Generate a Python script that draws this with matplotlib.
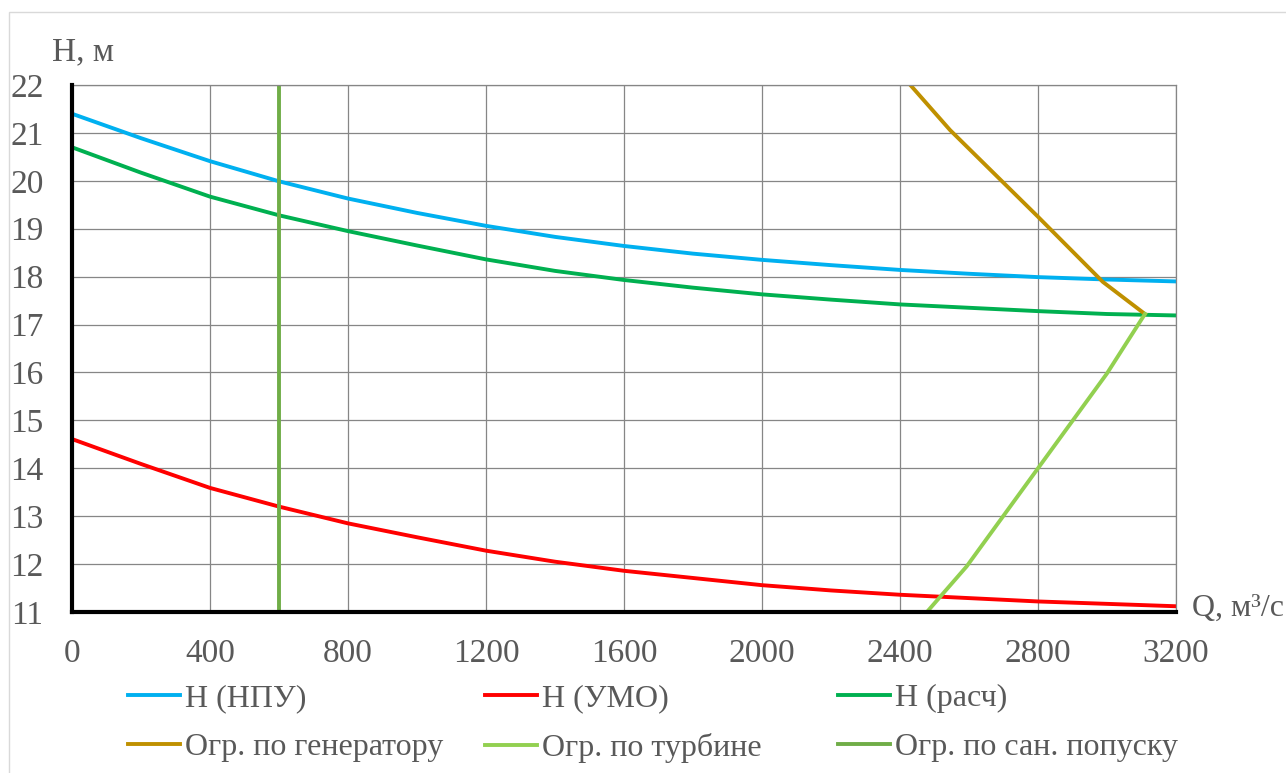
import numpy as np
import matplotlib
matplotlib.use('Agg')
import matplotlib.pyplot as plt
from matplotlib.patches import Rectangle

plt.rcParams['font.family'] = ['Liberation Serif', 'DejaVu Serif']

# расходы, м3/с
q = [0, 200, 400, 600, 800, 1000, 1200, 1400, 1600, 1800, 2000,
     2200, 2400, 2600, 2800, 3000, 3200]
# напоры, м
h_npu = [21.40, 20.89, 20.41, 19.99, 19.63, 19.33, 19.06, 18.83, 18.64,
         18.48, 18.35, 18.24, 18.14, 18.06, 17.99, 17.94, 17.90]
h_umo = [14.61, 14.09, 13.59, 13.20, 12.85, 12.56, 12.28, 12.05, 11.86,
         11.71, 11.56, 11.45, 11.36, 11.29, 11.22, 11.17, 11.12]
h_calc = [20.70, 20.17, 19.67, 19.28, 18.95, 18.65, 18.36, 18.12, 17.93,
          17.77, 17.63, 17.52, 17.42, 17.35, 17.28, 17.22, 17.19]

# ограничения
q_gen = [2430, 2545, 2800, 2988, 3110]
h_gen = [22.0, 21.06, 19.25, 17.89, 17.22]
q_turb = [2478, 2593, 2800, 3000, 3110]
h_turb = [11.0, 11.95, 14.0, 15.98, 17.22]
q_san = [600, 600]
h_san = [11, 22]

x_ticks = [0, 400, 800, 1200, 1600, 2000, 2400, 2800, 3200]
y_ticks = list(range(11, 23))

txt = '#595959'
fig = plt.figure(figsize=(12.86, 7.73), dpi=100)
fig.patches.append(Rectangle((9 / 1286, -0.01), 1.02, 1 - 12 / 773 + 0.01,
                             transform=fig.transFigure, fill=False,
                             edgecolor='#D9D9D9', linewidth=1))
ax = fig.add_axes([72 / 1286, 1 - 612 / 773, 1104 / 1286, 527 / 773])

lw = 2.8
ax.plot(q, h_npu, color='#00B0F0', lw=lw, label='Н (НПУ)')
ax.plot(q, h_umo, color='#FF0000', lw=lw, label='Н (УМО)')
ax.plot(q, h_calc, color='#00B050', lw=lw, label='Н (расч)')
ax.plot(q_gen, h_gen, color='#BF9000', lw=lw, label='Огр. по генератору')
ax.plot(q_turb, h_turb, color='#92D050', lw=lw, label='Огр. по турбине')
ax.plot(q_san, h_san, color='#70AD47', lw=lw, label='Огр. по сан. попуску')

ax.set_xlim(0, 3200)
ax.set_ylim(11, 22)
ax.set_xticks(x_ticks)
ax.set_yticks(y_ticks)
ax.grid(True, color='#868686', lw=0.9)
ax.set_axisbelow(True)
ax.tick_params(length=0, labelsize=24, labelcolor=txt)
ax.tick_params(axis='x', pad=19)
ax.tick_params(axis='y', pad=20.5)
for s in ('left', 'bottom'):
    ax.spines[s].set_linewidth(3)
    ax.spines[s].set_color('black')
    ax.spines[s].set_zorder(3)
for s in ('top', 'right'):
    ax.spines[s].set_linewidth(0.9)
    ax.spines[s].set_color('#868686')

fig.text(52 / 1286, 1 - 52 / 773, 'Н, м', fontsize=24, color=txt, va='center')
fig.text(1192 / 1286, 1 - 608 / 773, 'Q, м³/с', fontsize=23, color=txt, va='center')

# легенда в три колонки по две строки
handles, labels = ax.get_legend_handles_labels()
col_x = [128, 485, 838]
for i in range(3):
    fig.legend([handles[i], handles[i + 3]], [labels[i], labels[i + 3]],
               loc='upper left', bbox_to_anchor=(col_x[i] / 1286, 1 - 684 / 773),
               frameon=False, fontsize=23, labelcolor=txt, handlelength=1.63,
               handletextpad=0.16, labelspacing=0.61, borderaxespad=0,
               borderpad=0)

fig.savefig('out.png', dpi=100)
